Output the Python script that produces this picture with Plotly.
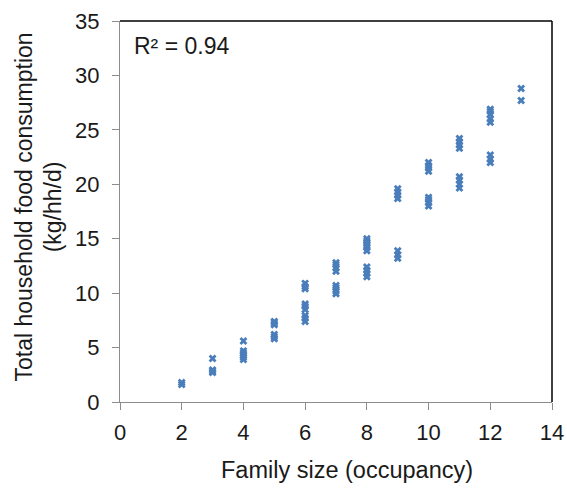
import plotly.graph_objects as go

family_size = [2, 2,
               3, 3, 3, 3,
               4, 4, 4, 4, 4, 4,
               5, 5, 5, 5, 5, 5,
               6, 6, 6, 6, 6, 6, 6, 6, 6,
               7, 7, 7, 7, 7, 7, 7, 7,
               8, 8, 8, 8, 8, 8, 8, 8, 8, 8,
               9, 9, 9, 9, 9, 9, 9,
               10, 10, 10, 10, 10, 10, 10, 10,
               11, 11, 11, 11, 11, 11, 11, 11,
               12, 12, 12, 12, 12, 12, 12, 12,
               13, 13]
food_consumption = [1.6, 1.8,
                    2.7, 2.85, 2.95, 4.0,
                    3.9, 4.1, 4.3, 4.5, 4.7, 5.6,
                    5.8, 6.0, 6.2, 7.1, 7.25, 7.4,
                    7.4, 7.7, 7.95, 8.5, 8.8, 9.0, 10.4, 10.6, 10.9,
                    9.95, 10.2, 10.5, 10.7, 12.0, 12.3, 12.6, 12.8,
                    11.5, 11.8, 12.1, 12.4, 13.9, 14.2, 14.4, 14.6, 14.8, 15.0,
                    13.2, 13.5, 13.9, 18.7, 19.0, 19.3, 19.6,
                    18.0, 18.3, 18.6, 18.8, 21.2, 21.5, 21.7, 22.0,
                    19.65, 20.0, 20.4, 20.7, 23.3, 23.6, 23.9, 24.2,
                    22.0, 22.3, 22.7, 25.7, 26.0, 26.4, 26.7, 26.9,
                    27.7, 28.8]

x_ticks = [0, 2, 4, 6, 8, 10, 12, 14]
y_ticks = [0, 5, 10, 15, 20, 25, 30, 35]
r2_label = "R² = 0.94"
x_title = "Family size (occupancy)"
y_title = "Total household food consumption<br>(kg/hh/d)"

font = "Liberation Sans, Arial, sans-serif"
txt = "#1a1a1a"

fig = go.Figure()
fig.add_trace(go.Scatter(
    x=family_size, y=food_consumption, mode="markers",
    marker=dict(symbol="x", size=7, color="#4A7EBB", line=dict(width=0)),
    showlegend=False, hoverinfo="x+y"))

fig.update_layout(
    width=567, height=488,
    margin=dict(l=120, r=15, t=21, b=86, autoexpand=False),
    paper_bgcolor="white", plot_bgcolor="white",
    font=dict(family=font, size=22, color=txt),
    xaxis=dict(range=[0, 14], tickvals=x_ticks, showgrid=False, zeroline=False,
               showline=True, linecolor="#8c8c8c", linewidth=1,
               ticks="outside", ticklen=7, tickcolor="#8c8c8c",
               ticklabelstandoff=4, automargin=False),
    yaxis=dict(range=[0, 35], tickvals=y_ticks, showgrid=False, zeroline=False,
               showline=True, linecolor="#8c8c8c", linewidth=1,
               ticks="outside", ticklen=7, tickcolor="#8c8c8c",
               ticklabelstandoff=8, automargin=False),
    shapes=[
        dict(type="line", xref="paper", yref="paper", x0=0, x1=1, y0=1, y1=1,
             line=dict(color="#000000", width=1.5)),
        dict(type="line", xref="paper", yref="paper", x0=1, x1=1, y0=0, y1=1,
             line=dict(color="#000000", width=1.5)),
    ],
    annotations=[
        dict(text=r2_label, xref="paper", yref="paper", x=0.027, y=0.975,
             xanchor="left", yanchor="top", showarrow=False,
             font=dict(size=23, family=font, color=txt)),
        dict(text=x_title, xref="paper", yref="paper", x=0.525, y=0,
             xanchor="center", yanchor="middle", yshift=-68, showarrow=False,
             font=dict(size=23.5, family=font, color=txt)),
        dict(text=y_title, xref="paper", yref="paper", x=0, y=0.5,
             xanchor="center", yanchor="middle", xshift=-82, yshift=4,
             textangle=-90, showarrow=False,
             font=dict(size=23, family=font, color=txt)),
    ],
)

fig.write_html("out.html",
               config={"displayModeBar": False},
               post_script="document.body.style.margin='0';"
                           "document.body.style.padding='0';")
